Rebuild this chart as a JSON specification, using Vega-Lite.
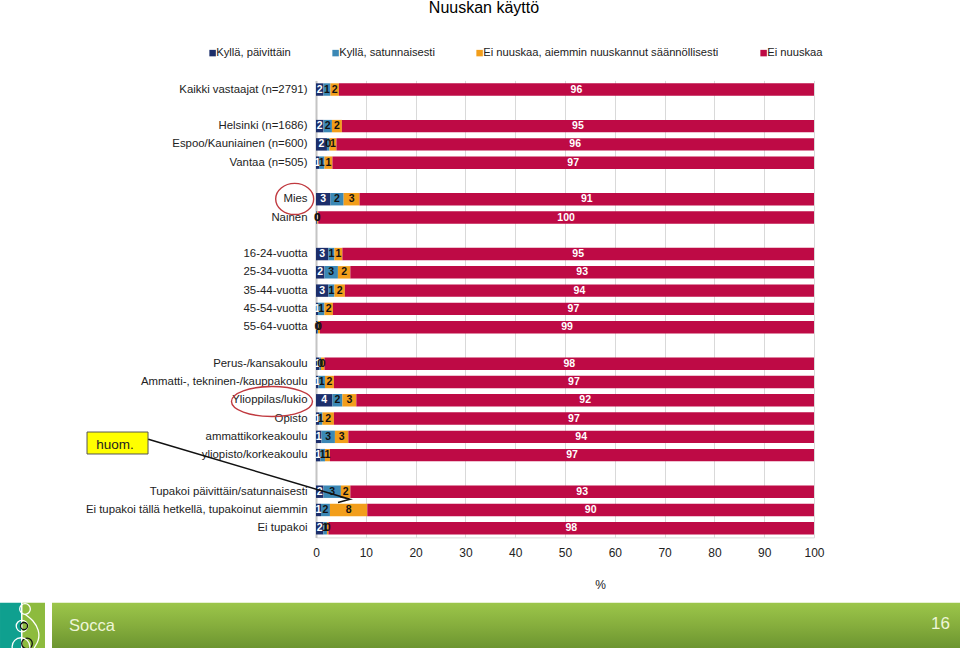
{"$schema":"https://vega.github.io/schema/vega-lite/v6.json","width":498,"height":457,"autosize":"none","padding":{"left":316,"top":80.4,"right":146,"bottom":110.6},"background":"white","config":{"font":"Liberation Sans","view":{"stroke":null}},"title":{"text":"Nuuskan käyttö","fontSize":16,"fontWeight":"normal","font":"Liberation Sans","color":"#000","anchor":"middle","dx":-81,"offset":31},
"datasets":{"d":[
{"c":"Kaikki vastaajat (n=2791)","s":1,"n":"Kyllä, päivittäin","v":1.5,"l":"2"},{"c":"Kaikki vastaajat (n=2791)","s":2,"n":"Kyllä, satunnaisesti","v":1.4,"l":"1"},{"c":"Kaikki vastaajat (n=2791)","s":3,"n":"Ei nuuskaa, aiemmin nuuskannut säännöllisesti","v":1.7,"l":"2"},{"c":"Kaikki vastaajat (n=2791)","s":4,"n":"Ei nuuskaa","v":95.4,"l":"96"},
{"c":"Helsinki (n=1686)","s":1,"n":"Kyllä, päivittäin","v":1.5,"l":"2"},{"c":"Helsinki (n=1686)","s":2,"n":"Kyllä, satunnaisesti","v":1.7,"l":"2"},{"c":"Helsinki (n=1686)","s":3,"n":"Ei nuuskaa, aiemmin nuuskannut säännöllisesti","v":2.0,"l":"2"},{"c":"Helsinki (n=1686)","s":4,"n":"Ei nuuskaa","v":94.8,"l":"95"},
{"c":"Espoo/Kauniainen (n=600)","s":1,"n":"Kyllä, päivittäin","v":2.2,"l":"2"},{"c":"Espoo/Kauniainen (n=600)","s":2,"n":"Kyllä, satunnaisesti","v":0.5,"l":"0"},{"c":"Espoo/Kauniainen (n=600)","s":3,"n":"Ei nuuskaa, aiemmin nuuskannut säännöllisesti","v":1.4,"l":"1"},{"c":"Espoo/Kauniainen (n=600)","s":4,"n":"Ei nuuskaa","v":95.9,"l":"96"},
{"c":"Vantaa (n=505)","s":1,"n":"Kyllä, päivittäin","v":0.6,"l":"1"},{"c":"Vantaa (n=505)","s":2,"n":"Kyllä, satunnaisesti","v":1.1,"l":"1"},{"c":"Vantaa (n=505)","s":3,"n":"Ei nuuskaa, aiemmin nuuskannut säännöllisesti","v":1.6,"l":"1"},{"c":"Vantaa (n=505)","s":4,"n":"Ei nuuskaa","v":96.7,"l":"97"},
{"c":"Mies","s":1,"n":"Kyllä, päivittäin","v":2.9,"l":"3"},{"c":"Mies","s":2,"n":"Kyllä, satunnaisesti","v":2.65,"l":"2"},{"c":"Mies","s":3,"n":"Ei nuuskaa, aiemmin nuuskannut säännöllisesti","v":3.2,"l":"3"},{"c":"Mies","s":4,"n":"Ei nuuskaa","v":91.25,"l":"91"},
{"c":"Nainen","s":1,"n":"Kyllä, päivittäin","v":0.15,"l":"0"},{"c":"Nainen","s":2,"n":"Kyllä, satunnaisesti","v":0.1,"l":"0"},{"c":"Nainen","s":3,"n":"Ei nuuskaa, aiemmin nuuskannut säännöllisesti","v":0.2,"l":"0"},{"c":"Nainen","s":4,"n":"Ei nuuskaa","v":99.55,"l":"100"},
{"c":"16-24-vuotta","s":1,"n":"Kyllä, päivittäin","v":2.5,"l":"3"},{"c":"16-24-vuotta","s":2,"n":"Kyllä, satunnaisesti","v":1.2,"l":"1"},{"c":"16-24-vuotta","s":3,"n":"Ei nuuskaa, aiemmin nuuskannut säännöllisesti","v":1.6,"l":"1"},{"c":"16-24-vuotta","s":4,"n":"Ei nuuskaa","v":94.7,"l":"95"},
{"c":"25-34-vuotta","s":1,"n":"Kyllä, päivittäin","v":1.7,"l":"2"},{"c":"25-34-vuotta","s":2,"n":"Kyllä, satunnaisesti","v":2.7,"l":"3"},{"c":"25-34-vuotta","s":3,"n":"Ei nuuskaa, aiemmin nuuskannut säännöllisesti","v":2.5,"l":"2"},{"c":"25-34-vuotta","s":4,"n":"Ei nuuskaa","v":93.1,"l":"93"},
{"c":"35-44-vuotta","s":1,"n":"Kyllä, päivittäin","v":2.5,"l":"3"},{"c":"35-44-vuotta","s":2,"n":"Kyllä, satunnaisesti","v":1.2,"l":"1"},{"c":"35-44-vuotta","s":3,"n":"Ei nuuskaa, aiemmin nuuskannut säännöllisesti","v":2.1,"l":"2"},{"c":"35-44-vuotta","s":4,"n":"Ei nuuskaa","v":94.2,"l":"94"},
{"c":"45-54-vuotta","s":1,"n":"Kyllä, päivittäin","v":0.4,"l":"1"},{"c":"45-54-vuotta","s":2,"n":"Kyllä, satunnaisesti","v":1.3,"l":"1"},{"c":"45-54-vuotta","s":3,"n":"Ei nuuskaa, aiemmin nuuskannut säännöllisesti","v":1.7,"l":"2"},{"c":"45-54-vuotta","s":4,"n":"Ei nuuskaa","v":96.6,"l":"97"},
{"c":"55-64-vuotta","s":1,"n":"Kyllä, päivittäin","v":0.2,"l":"0"},{"c":"55-64-vuotta","s":2,"n":"Kyllä, satunnaisesti","v":0.2,"l":"0"},{"c":"55-64-vuotta","s":3,"n":"Ei nuuskaa, aiemmin nuuskannut säännöllisesti","v":0.4,"l":"0"},{"c":"55-64-vuotta","s":4,"n":"Ei nuuskaa","v":99.2,"l":"99"},
{"c":"Perus-/kansakoulu","s":1,"n":"Kyllä, päivittäin","v":0.7,"l":"1"},{"c":"Perus-/kansakoulu","s":2,"n":"Kyllä, satunnaisesti","v":0.3,"l":"0"},{"c":"Perus-/kansakoulu","s":3,"n":"Ei nuuskaa, aiemmin nuuskannut säännöllisesti","v":0.7,"l":"0"},{"c":"Perus-/kansakoulu","s":4,"n":"Ei nuuskaa","v":98.3,"l":"98"},
{"c":"Ammatti-, tekninen-/kauppakoulu","s":1,"n":"Kyllä, päivittäin","v":0.5,"l":"1"},{"c":"Ammatti-, tekninen-/kauppakoulu","s":2,"n":"Kyllä, satunnaisesti","v":1.3,"l":"1"},{"c":"Ammatti-, tekninen-/kauppakoulu","s":3,"n":"Ei nuuskaa, aiemmin nuuskannut säännöllisesti","v":1.8,"l":"2"},{"c":"Ammatti-, tekninen-/kauppakoulu","s":4,"n":"Ei nuuskaa","v":96.4,"l":"97"},
{"c":"Ylioppilas/lukio","s":1,"n":"Kyllä, päivittäin","v":3.3,"l":"4"},{"c":"Ylioppilas/lukio","s":2,"n":"Kyllä, satunnaisesti","v":2.0,"l":"2"},{"c":"Ylioppilas/lukio","s":3,"n":"Ei nuuskaa, aiemmin nuuskannut säännöllisesti","v":2.8,"l":"3"},{"c":"Ylioppilas/lukio","s":4,"n":"Ei nuuskaa","v":91.9,"l":"92"},
{"c":"Opisto","s":1,"n":"Kyllä, päivittäin","v":0.6,"l":"1"},{"c":"Opisto","s":2,"n":"Kyllä, satunnaisesti","v":0.7,"l":"1"},{"c":"Opisto","s":3,"n":"Ei nuuskaa, aiemmin nuuskannut säännöllisesti","v":2.3,"l":"2"},{"c":"Opisto","s":4,"n":"Ei nuuskaa","v":96.4,"l":"97"},
{"c":"ammattikorkeakoulu","s":1,"n":"Kyllä, päivittäin","v":1.1,"l":"1"},{"c":"ammattikorkeakoulu","s":2,"n":"Kyllä, satunnaisesti","v":2.7,"l":"3"},{"c":"ammattikorkeakoulu","s":3,"n":"Ei nuuskaa, aiemmin nuuskannut säännöllisesti","v":2.7,"l":"3"},{"c":"ammattikorkeakoulu","s":4,"n":"Ei nuuskaa","v":93.5,"l":"94"},
{"c":"yliopisto/korkeakoulu","s":1,"n":"Kyllä, päivittäin","v":0.9,"l":"1"},{"c":"yliopisto/korkeakoulu","s":2,"n":"Kyllä, satunnaisesti","v":0.9,"l":"1"},{"c":"yliopisto/korkeakoulu","s":3,"n":"Ei nuuskaa, aiemmin nuuskannut säännöllisesti","v":1.0,"l":"1"},{"c":"yliopisto/korkeakoulu","s":4,"n":"Ei nuuskaa","v":97.2,"l":"97"},
{"c":"Tupakoi päivittäin/satunnaisesti","s":1,"n":"Kyllä, päivittäin","v":1.5,"l":"2"},{"c":"Tupakoi päivittäin/satunnaisesti","s":2,"n":"Kyllä, satunnaisesti","v":3.5,"l":"3"},{"c":"Tupakoi päivittäin/satunnaisesti","s":3,"n":"Ei nuuskaa, aiemmin nuuskannut säännöllisesti","v":1.9,"l":"2"},{"c":"Tupakoi päivittäin/satunnaisesti","s":4,"n":"Ei nuuskaa","v":93.1,"l":"93"},
{"c":"Ei tupakoi tällä hetkellä, tupakoinut aiemmin","s":1,"n":"Kyllä, päivittäin","v":1.0,"l":"1"},{"c":"Ei tupakoi tällä hetkellä, tupakoinut aiemmin","s":2,"n":"Kyllä, satunnaisesti","v":1.8,"l":"2"},{"c":"Ei tupakoi tällä hetkellä, tupakoinut aiemmin","s":3,"n":"Ei nuuskaa, aiemmin nuuskannut säännöllisesti","v":7.5,"l":"8"},{"c":"Ei tupakoi tällä hetkellä, tupakoinut aiemmin","s":4,"n":"Ei nuuskaa","v":89.7,"l":"90"},
{"c":"Ei tupakoi","s":1,"n":"Kyllä, päivittäin","v":1.5,"l":"2"},{"c":"Ei tupakoi","s":2,"n":"Kyllä, satunnaisesti","v":0.7,"l":"1"},{"c":"Ei tupakoi","s":3,"n":"Ei nuuskaa, aiemmin nuuskannut säännöllisesti","v":0.3,"l":"0"},{"c":"Ei tupakoi","s":4,"n":"Ei nuuskaa","v":97.5,"l":"98"}
]},
"resolve":{"scale":{"y":"independent"}},
"layer":[
{"data":{"name":"d"},"encoding":{"y":{"field":"c","type":"nominal","title":null,"scale":{"paddingInner":0.32,"paddingOuter":0.16,"domain":["Kaikki vastaajat (n=2791)","gap1","Helsinki (n=1686)","Espoo/Kauniainen (n=600)","Vantaa (n=505)","gap2","Mies","Nainen","gap3","16-24-vuotta","25-34-vuotta","35-44-vuotta","45-54-vuotta","55-64-vuotta","gap4","Perus-/kansakoulu","Ammatti-, tekninen-/kauppakoulu","Ylioppilas/lukio","Opisto","ammattikorkeakoulu","yliopisto/korkeakoulu","gap5","Tupakoi päivittäin/satunnaisesti","Ei tupakoi tällä hetkellä, tupakoinut aiemmin","Ei tupakoi"]},"axis":{"labelExpr":"indexof(datum.label,'gap')==0?'':datum.label","labelFontSize":11.4,"labelColor":"#222","labelLimit":320,"labelPadding":9,"ticks":false,"domainColor":"#c4c4c4","domainWidth":2,"grid":false}}},
"layer":[
{"mark":{"type":"bar"},"encoding":{"x":{"field":"v","type":"quantitative","stack":"zero","title":"%","scale":{"domain":[0,100],"nice":false},"axis":{"values":[0,10,20,30,40,50,60,70,80,90,100],"format":"d","grid":true,"gridColor":"#d9d9d9","ticks":false,"domainColor":"#d9d9d9","labelFlush":false,"labelFontSize":12,"labelColor":"#222","labelPadding":10,"titleFontSize":12,"titleFontWeight":"normal","titleColor":"#222","titleX":284,"titleY":42}},"order":{"field":"s"},"color":{"field":"n","type":"nominal","title":null,"scale":{"domain":["Kyllä, päivittäin","Kyllä, satunnaisesti","Ei nuuskaa, aiemmin nuuskannut säännöllisesti","Ei nuuskaa"],"range":["#1C2E6B","#3B88B5","#F29E1B","#BE0A45"]},"legend":{"orient":"none","legendX":-109,"legendY":-33,"direction":"horizontal","columns":4,"columnPadding":39,"symbolType":"square","symbolSize":42,"symbolStrokeWidth":0,"labelFontSize":11.2,"labelColor":"#222","labelOffset":-2,"labelLimit":300}}}},
{"mark":{"type":"text","fontSize":10.5,"fontWeight":"bold"},"encoding":{"x":{"field":"v","type":"quantitative","stack":"zero","bandPosition":0.5},"detail":{"field":"s"},"order":{"field":"s"},"text":{"field":"l"},"color":{"condition":{"test":"datum.s==2||datum.s==3","value":"#111"},"value":"#fff"}}}
]},
{"encoding":{"x":{"field":"x","type":"quantitative","title":"%","axis":{"values":[0,10,20,30,40,50,60,70,80,90,100],"format":"d","grid":true,"gridColor":"#d9d9d9","ticks":false,"domainColor":"#d9d9d9","labelFlush":false,"labelFontSize":12,"labelColor":"#222","labelPadding":10,"titleFontSize":12,"titleFontWeight":"normal","titleColor":"#222","titleX":284,"titleY":42}},"y":{"field":"y","type":"quantitative","title":null,"axis":null,"scale":{"domain":[0,100],"nice":false,"zero":false,"reverse":true}}},
"layer":[
{"data":{"values":[{"x":-63.45,"x2":-59.24,"y":114.29,"y2":124.22}]},"mark":{"type":"rect","color":"#0FA08F"},"encoding":{"x2":{"field":"x2"},"y2":{"field":"y2"}}},
{"data":{"values":[{"x":-58.94,"x2":-54.42,"y":114.29,"y2":124.22}]},"mark":{"type":"rect","color":"#8DBB3E"},"encoding":{"x2":{"field":"x2"},"y2":{"field":"y2"}}},
{"data":{"values":[{"x":-53.01,"x2":129.32,"y":114.29,"y2":124.22}]},"mark":{"type":"rect","color":{"x1":0,"y1":0,"x2":0,"y2":1,"gradient":"linear","stops":[{"offset":0,"color":"#9CC64A"},{"offset":0.5,"color":"#86AE3D"},{"offset":1,"color":"#6C9530"}]}},"encoding":{"x2":{"field":"x2"},"y2":{"field":"y2"}}},
{"data":{"values":[{"x":-58.43,"y":115.67}]},"mark":{"type":"point","shape":"circle","size":113,"filled":false,"stroke":"#fff","strokeWidth":1.3,"opacity":1}},
{"data":{"values":[{"x":-59.04,"y":119.4}]},"mark":{"type":"point","shape":"circle","size":133,"filled":false,"stroke":"#fff","strokeWidth":1.3,"opacity":1}},
{"data":{"values":[{"x":-58.63,"y":119.4}]},"mark":{"type":"point","shape":"circle","size":50,"filled":false,"stroke":"#111","strokeWidth":1.3,"opacity":1}},
{"data":{"values":[{"x":-58.03,"y":123.2}]},"mark":{"type":"point","shape":"circle","size":113,"filled":false,"stroke":"#111","strokeWidth":1.3,"opacity":1}},
{"data":{"values":[{"x":-59.24,"y":123.9}]},"mark":{"type":"point","shape":"circle","size":314,"filled":false,"stroke":"#fff","strokeWidth":1.3,"opacity":1}},
{"data":{"values":[{"o":1,"x":-58.43,"y":116.8},{"o":2,"x":-56.8,"y":118.1},{"o":3,"x":-55.6,"y":120.3},{"o":4,"x":-55.6,"y":122.5},{"o":5,"x":-56.6,"y":124.2}]},"mark":{"type":"line","color":"#fff","strokeWidth":1.3,"interpolate":"basis"},"encoding":{"order":{"field":"o"}}},
{"data":{"values":[{"x":-49.6,"y":119.3,"t":"Socca"}]},"mark":{"type":"text","align":"left","baseline":"middle","fontSize":16.5,"color":"#EEF6D8"},"encoding":{"text":{"field":"t"}}},
{"data":{"values":[{"x":127.3,"y":118.9,"t":"16"}]},"mark":{"type":"text","align":"right","baseline":"middle","fontSize":17,"color":"#EEF6D8"},"encoding":{"text":{"field":"t"}}},
{"data":{"values":[{"x":-45.98,"x2":-33.73,"y":76.94,"y2":81.75}]},"mark":{"type":"rect","color":"#FFFF00","stroke":"#555","strokeWidth":1},"encoding":{"x2":{"field":"x2"},"y2":{"field":"y2"}}},
{"data":{"values":[{"x":-40.36,"y":79.7,"t":"huom."}]},"mark":{"type":"text","align":"center","baseline":"middle","fontSize":13.5,"color":"#222"},"encoding":{"text":{"field":"t"}}},
{"data":{"values":[{"o":1,"x":-33.67,"y":78.53},{"o":2,"x":6.83,"y":91.66},{"o":3,"x":4.82,"y":91.09},{"o":4,"x":6.83,"y":91.66},{"o":5,"x":4.42,"y":92.36}]},"mark":{"type":"line","color":"#111","strokeWidth":1.5},"encoding":{"order":{"field":"o"}}},
{"data":{"values":[{"x":-4.28,"y":25.95}]},"mark":{"type":"point","shape":"M-1,0A1,0.82,0,1,1,1,0A1,0.82,0,1,1,-1,0Z","size":1444,"filled":false,"stroke":"#C0393F","strokeWidth":1.4,"opacity":1}},
{"data":{"values":[{"x":-8.84,"y":70.26}]},"mark":{"type":"point","shape":"M-1,0A1,0.37,0,1,1,1,0A1,0.37,0,1,1,-1,0Z","size":6561,"filled":false,"stroke":"#C0393F","strokeWidth":1.4,"opacity":1}}
]}
]}
